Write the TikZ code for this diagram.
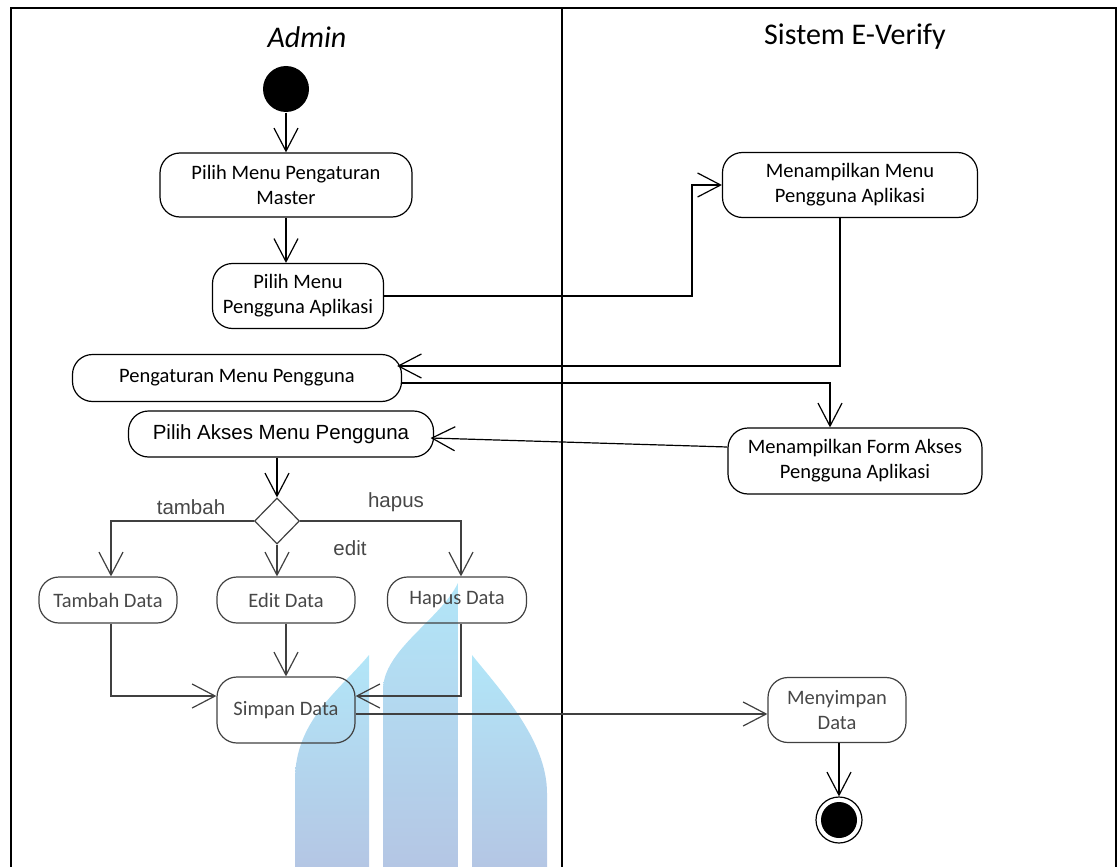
\documentclass[tikz,border=0pt]{standalone}
\usepackage{fontspec}
\setmainfont{Carlito}
\newfontfamily\arialf{Liberation Sans}
\usetikzlibrary{arrows.meta,shapes.geometric,calc}
\definecolor{gline}{gray}{0.25}
\definecolor{gtext}{gray}{0.28}
\definecolor{wmtop}{RGB}{178,230,248}
\definecolor{wmbot}{RGB}{180,198,228}
\tikzset{
  act/.style={draw, rounded corners=20pt, inner sep=0pt, align=center, font=\fontsize{20.5}{25}\selectfont},
  gact/.style={act, draw=gline, text=gtext},
  flow/.style={-{Straight Barb[length=23pt,width=24pt]}},
  gflow/.style={flow, draw=gline},
  lanetitle/.style={font=\fontsize{30}{36}\selectfont},
  guard/.style={font=\arialf\fontsize{20.5}{25}\selectfont, text=gtext},
  wmark/.style={top color=wmtop, bottom color=wmbot, draw=none},
}
\begin{document}
\begin{tikzpicture}[x=1pt,y=-1pt,line width=1.2pt]
\useasboundingbox (0,0) rectangle (1120,867);
% background watermark
\shade[wmark] (369,655) -- (369,867) -- (295,867) -- (295,780) .. controls (295,720) and (340,690) .. (369,655) -- cycle;
\shade[wmark] (458,583) -- (458,867) -- (383,867) -- (383,690) .. controls (383,650) and (440,620) .. (458,583) -- cycle;
\shade[wmark] (472,655) -- (472,867) -- (547,867) -- (547,793) .. controls (547,740) and (500,690) .. (472,655) -- cycle;
% frame
\draw (11,867) -- (11,8) -- (1116,8) -- (1116,867);
\draw (562,8) -- (562,867);
\node[lanetitle, font=\fontsize{30}{36}\selectfont\itshape] (tA) at (307,37) {Admin};
\node[lanetitle] (tS) at (855,37) {Sistem E-Verify};
% nodes
\node[fill, circle, minimum size=46pt, inner sep=0pt] (start) at (286,89) {};
\node[act, minimum width=252pt, minimum height=64pt] (n1) at (286,185) {Pilih Menu Pengaturan\\Master};
\node[act, minimum width=171pt, minimum height=65pt] (n2) at (298,296) {Pilih Menu\\Pengguna Aplikasi};
\node[act, minimum width=255pt, minimum height=65pt] (n3) at (850,185) {Menampilkan Menu\\Pengguna Aplikasi};
\node[act, minimum width=329pt, minimum height=47pt] (n4) at (237,378) {Pengaturan Menu Pengguna};
\node[act, minimum width=254pt, minimum height=66pt] (n5) at (855,461) {Menampilkan Form Akses\\Pengguna Aplikasi};
\node[act, minimum width=305pt, minimum height=46pt, font=\arialf\fontsize{20.5}{25}\selectfont] (n6) at (281,434) {Pilih Akses Menu Pengguna};
\node[draw=gline, diamond, minimum width=45pt, minimum height=46pt, inner sep=0pt] (dec) at (277,521) {};
\node[gact, minimum width=138pt, minimum height=46pt] (t) at (108,600) {Tambah Data};
\node[gact, minimum width=138pt, minimum height=46pt] (e) at (286,600) {Edit Data};
\node[gact, minimum width=139pt, minimum height=46pt] (h) at (457,600) {Hapus Data};
\node[gact, minimum width=138pt, minimum height=66pt] (s) at (286,710) {Simpan Data};
\node[gact, minimum width=138pt, minimum height=65pt] (m) at (837,710) {Menyimpan\\Data};
\node[draw, circle, minimum size=46pt, inner sep=0pt] (endc) at (839,820) {};
\node[fill, circle, minimum size=36pt, inner sep=0pt] (endi) at (endc) {};
% guards
\node[guard] (gt) at (191,507) {tambah};
\node[guard] (gh) at (396,502) {hapus};
\node[guard] (ge) at (350,548) {edit};
% connectors
\draw[flow] (start) -- (n1);
\draw[flow] (n1.south) -- (n1.south |- n2.north);
\draw[flow] (n2.east) -| ([xshift=-30pt]n3.west) -- (n3.west);
\draw[flow] ([xshift=-10pt]n3.south) |- ([xshift=-5pt,yshift=12pt]n4.east);
\draw[flow] ([yshift=-5pt]n4.east) -| ([xshift=-25pt]n5.north);
\draw[flow] ([yshift=14pt]n5.west) -- ([xshift=-3.5pt,yshift=-4pt]n6.east);
\draw[flow] (dec.north |- n6.south) -- (dec.north);
\draw[gflow] (dec.west) -| ([xshift=3pt]t.north);
\draw[gflow] (dec.south) -- (dec.south |- e.north);
\draw[gflow] (dec.east) -| ([xshift=4pt]h.north);
\draw[gflow] ([xshift=3pt]t.south) |- ([yshift=14pt]s.west);
\draw[gflow] (e.south) -- (s.north);
\draw[gflow] ([xshift=4pt]h.south) |- ([yshift=14pt]s.east);
\draw[gflow] ([yshift=-4pt]s.east) -- ([yshift=-4pt]m.west);
\draw[flow] (endc.north |- m.south) -- (endc.north);
\end{tikzpicture}
\end{document}
